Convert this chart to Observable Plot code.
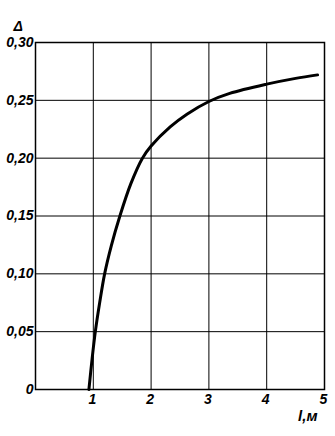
<!DOCTYPE html>
<html>
<head>
<meta charset="utf-8">
<script src="https://cdn.jsdelivr.net/npm/d3@7"></script>
<script src="https://cdn.jsdelivr.net/npm/@observablehq/plot@0.6"></script>
<style>
  html, body { margin: 0; padding: 0; background: #fff; }
  svg { display: block; }
</style>
</head>
<body>
<div id="chart"></div>
<script>
// Curve Δ(l)
const lValues = [0.924, 0.976, 1.035, 1.11, 1.196, 1.31, 1.46, 1.65, 1.85, 2.0, 2.33, 2.62, 3.0, 3.36, 4.0, 4.5, 4.88];
const deltaValues = [0.0, 0.025, 0.05, 0.075, 0.10, 0.124, 0.15, 0.178, 0.20, 0.2105, 0.227, 0.238, 0.249, 0.256, 0.264, 0.269, 0.272];
const xTicks = [1, 2, 3, 4, 5];
const yTicks = [0, 0.05, 0.10, 0.15, 0.20, 0.25, 0.30];
const xLabel = "l,м";
const yLabel = "Δ";

const data = lValues.map((l, i) => ({ l, d: deltaValues[i] }));
const fmt = v => v === 0 ? "0" : v.toFixed(2).replace(".", ",");

const chart = Plot.plot({
  width: 335,
  height: 436,
  marginLeft: 35,
  marginRight: 11,
  marginTop: 42,
  marginBottom: 47,
  style: {
    fontFamily: "'Liberation Sans', Arial, sans-serif",
    fontSize: "14px",
    fontStyle: "italic",
    fontWeight: "bold",
    background: "#fff",
    color: "#000"
  },
  x: { domain: [0, 5] },
  y: { domain: [0, 0.30] },
  marks: [
    Plot.gridX(xTicks, { stroke: "#000", strokeOpacity: 1, strokeWidth: 1 }),
    Plot.gridY(yTicks, { stroke: "#000", strokeOpacity: 1, strokeWidth: 1 }),
    Plot.frame({ stroke: "#000", strokeWidth: 1.5 }),
    Plot.axisY(yTicks, {
      tickSize: 0, tickPadding: 2, tickFormat: fmt, label: null, fontSize: 14
    }),
    Plot.axisX(xTicks, {
      tickSize: 0, tickPadding: 5, tickFormat: d => String(d), label: null, fontSize: 14, dx: -1
    }),
    Plot.text([yLabel], {
      frameAnchor: "top-left", text: d => d, textAnchor: "start",
      dx: -22, dy: -21, fontSize: 14, fontWeight: "bold", fontStyle: "italic"
    }),
    Plot.text([xLabel], {
      frameAnchor: "bottom-right", text: d => d, textAnchor: "end",
      dx: -7, dy: 31, fontSize: 15, fontWeight: "bold", fontStyle: "italic"
    }),
    Plot.line(data, { x: "l", y: "d", curve: "catmull-rom", stroke: "#000", strokeWidth: 3 })
  ]
});
document.getElementById("chart").appendChild(chart);
</script>
</body>
</html>
